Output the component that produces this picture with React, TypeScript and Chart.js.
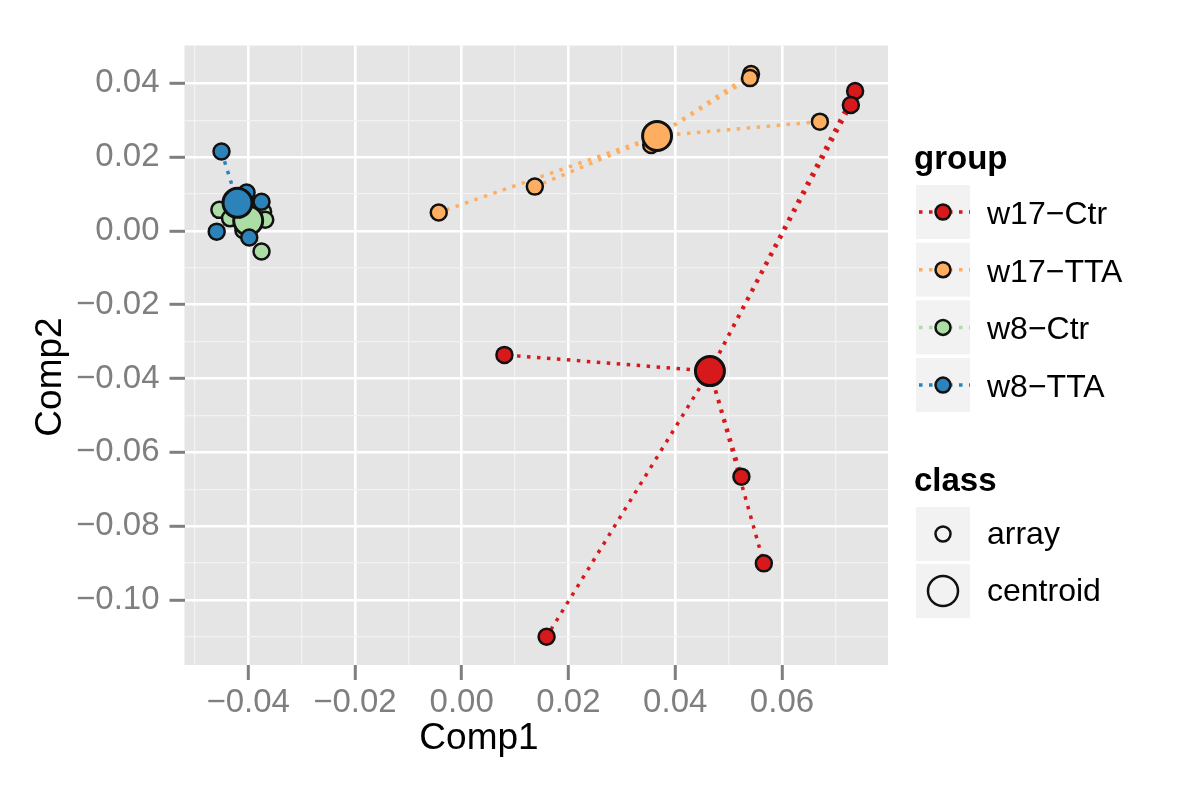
import React, { useEffect, useRef } from 'react';
import { Chart, registerables } from 'chart.js';

Chart.register(...registerables);

// ---------- data ----------
const groupNames = ['w17−Ctr', 'w17−TTA', 'w8−Ctr', 'w8−TTA'];
const groupColors = ['#D7191C', '#FDAE61', '#ABDDA4', '#2B83BA'];

const w17CtrX = [0.0737, 0.0729, 0.0080, 0.0524, 0.0566, 0.0159];
const w17CtrY = [0.0379, 0.0341, -0.0336, -0.0666, -0.0901, -0.1100];

const w17TtaX = [-0.0043, 0.0137, 0.0355, 0.0542, 0.0540, 0.0671];
const w17TtaY = [0.0050, 0.0120, 0.0233, 0.0425, 0.0414, 0.0296];

const w8CtrX = [-0.0454, -0.0434, -0.0372, -0.0368, -0.0375, -0.0409];
const w8CtrY = [0.0057, 0.0034, 0.0052, 0.0030, -0.0056, 0.0002];

const w8TtaX = [-0.0450, -0.0403, -0.0375, -0.0459, -0.0398];
const w8TtaY = [0.0215, 0.0104, 0.0079, -0.0002, -0.0018];

const centroidX = [0.0465, 0.0366, -0.0400, -0.0420];
const centroidY = [-0.0380, 0.0257, 0.0028, 0.0076];

const xTicks = [-0.04, -0.02, 0.0, 0.02, 0.04, 0.06];
const xMinorTicks = [-0.05, -0.03, -0.01, 0.01, 0.03, 0.05, 0.07];
const yTicks = [-0.10, -0.08, -0.06, -0.04, -0.02, 0.0, 0.02, 0.04];
const yMinorTicks = [-0.11, -0.09, -0.07, -0.05, -0.03, -0.01, 0.01, 0.03];
const xLimits = [-0.05193, 0.07986];
const yLimits = [-0.11764, 0.05024];

const xTitle = 'Comp1';
const yTitle = 'Comp2';
const groupTitle = 'group';
const classTitle = 'class';
const classNames = ['array', 'centroid'];

const groupXs = [w17CtrX, w17TtaX, w8CtrX, w8TtaX];
const groupYs = [w17CtrY, w17TtaY, w8CtrY, w8TtaY];

// ---------- helpers ----------
const FONT = '"Liberation Sans", Arial, Helvetica, sans-serif';
const isIn = (list: number[], v: number) => list.some((t) => Math.abs(t - v) < 1e-9);
const fmt = (v: number) => (v < -1e-12 ? '−' : '') + Math.abs(v).toFixed(2);

const ARRAY_R = 8;
const CENTROID_R = 14.5;
const DASH = [3.5, 6.5];

function buildDatasets() {
  const ds: any[] = [];
  // segments (centroid -> each array point)
  groupXs.forEach((xs, g) => {
    const data: any[] = [];
    xs.forEach((x, i) => {
      data.push({ x: centroidX[g], y: centroidY[g] });
      data.push({ x, y: groupYs[g][i] });
      data.push({ x: centroidX[g], y: null });
    });
    ds.push({
      type: 'scatter',
      label: groupNames[g] + ' lines',
      data,
      showLine: true,
      spanGaps: false,
      borderColor: groupColors[g],
      borderWidth: 3.5,
      borderDash: DASH,
      borderCapStyle: 'butt',
      pointRadius: 0,
      pointHoverRadius: 0,
      order: 200 - g,
    });
  });
  // points: per group, array points then centroid
  groupXs.forEach((xs, g) => {
    ds.push({
      type: 'scatter',
      label: groupNames[g],
      data: xs.map((x, i) => ({ x, y: groupYs[g][i] })),
      backgroundColor: groupColors[g],
      borderColor: '#111111',
      borderWidth: 2.5,
      pointRadius: ARRAY_R,
      pointHoverRadius: ARRAY_R,
      order: 100 - g * 20,
    });
    ds.push({
      type: 'scatter',
      label: groupNames[g] + ' centroid',
      data: [{ x: centroidX[g], y: centroidY[g] }],
      backgroundColor: groupColors[g],
      borderColor: '#111111',
      borderWidth: 3,
      pointRadius: CENTROID_R,
      pointHoverRadius: CENTROID_R,
      order: 90 - g * 20,
    });
  });
  return ds;
}

const decorPlugin = {
  id: 'decor',
  beforeDraw(chart: any) {
    const { ctx, chartArea: a } = chart;
    ctx.save();
    ctx.fillStyle = '#E5E5E5';
    ctx.fillRect(a.left, a.top, a.right - a.left, a.bottom - a.top);
    ctx.restore();
  },
  afterDraw(chart: any) {
    const { ctx } = chart;
    ctx.save();
    // axis titles
    ctx.fillStyle = '#000000';
    ctx.font = `37px ${FONT}`;
    ctx.textAlign = 'center';
    ctx.textBaseline = 'alphabetic';
    ctx.fillText(xTitle, 479, 749);
    ctx.save();
    ctx.translate(61, 377);
    ctx.rotate(-Math.PI / 2);
    ctx.fillText(yTitle, 0, 0);
    ctx.restore();

    // legend: group
    const keyX = 916;
    const keyW = 54;
    const labelX = 987;
    ctx.textAlign = 'left';
    ctx.font = `bold 33px ${FONT}`;
    ctx.fillText(groupTitle, 914, 169);
    const groupTops = [185, 242.7, 300.4, 358.1];
    groupNames.forEach((name, g) => {
      const top = groupTops[g];
      const cy = top + keyW / 2;
      const cx = keyX + keyW / 2;
      ctx.fillStyle = '#F2F2F2';
      ctx.fillRect(keyX, top, keyW, keyW);
      // dotted line
      ctx.save();
      ctx.strokeStyle = groupColors[g];
      ctx.lineWidth = 3.5;
      ctx.setLineDash(DASH);
      ctx.lineCap = 'butt';
      ctx.beginPath();
      ctx.moveTo(keyX + 3, cy);
      ctx.lineTo(keyX + keyW, cy);
      ctx.stroke();
      ctx.restore();
      // point
      ctx.beginPath();
      ctx.arc(cx, cy, 7.5, 0, Math.PI * 2);
      ctx.fillStyle = groupColors[g];
      ctx.fill();
      ctx.lineWidth = 2.5;
      ctx.strokeStyle = '#111111';
      ctx.stroke();
      ctx.fillStyle = '#000000';
      ctx.font = `32px ${FONT}`;
      ctx.fillText(name, labelX, cy + 12);
    });

    // legend: class
    ctx.font = `bold 33px ${FONT}`;
    ctx.fillStyle = '#000000';
    ctx.fillText(classTitle, 914, 491);
    const classTops = [507, 564];
    const classR = [7.5, 15];
    classNames.forEach((name, i) => {
      const top = classTops[i];
      const cy = top + keyW / 2;
      const cx = keyX + keyW / 2;
      ctx.fillStyle = '#F2F2F2';
      ctx.fillRect(keyX, top, keyW, keyW);
      ctx.beginPath();
      ctx.arc(cx, cy, classR[i], 0, Math.PI * 2);
      ctx.lineWidth = 2.5;
      ctx.strokeStyle = '#111111';
      ctx.stroke();
      ctx.fillStyle = '#000000';
      ctx.font = `32px ${FONT}`;
      ctx.fillText(name, labelX, cy + 10);
    });
    ctx.restore();
  },
};

function gridColor(major: number[]) {
  return (c: any) => (c.tick && isIn(major, c.tick.value) ? '#FFFFFF' : '#F2F2F2');
}
function gridWidth(major: number[]) {
  return (c: any) => (c.tick && isIn(major, c.tick.value) ? 2.6 : 1.3);
}
function tickColor(major: number[]) {
  return (c: any) => (c.tick && isIn(major, c.tick.value) ? '#7F7F7F' : 'rgba(0,0,0,0)');
}

export default function App() {
  const ref = useRef<HTMLCanvasElement | null>(null);
  useEffect(() => {
    if (!ref.current) return;
    const chart = new Chart(ref.current, {
      type: 'scatter',
      data: { datasets: buildDatasets() },
      options: {
        animation: false,
        responsive: false,
        maintainAspectRatio: false,
        events: [],
        layout: { padding: { left: 0, top: 45.5, right: 312, bottom: 0 } },
        plugins: { legend: { display: false }, tooltip: { enabled: false }, title: { display: false } },
        scales: {
          x: {
            type: 'linear',
            min: xLimits[0],
            max: xLimits[1],
            afterBuildTicks: (axis: any) => {
              axis.ticks = [...xTicks, ...xMinorTicks].sort((a, b) => a - b).map((v) => ({ value: v }));
            },
            afterFit: (s: any) => {
              s.height = 125;
            },
            border: { display: false },
            grid: {
              color: gridColor(xTicks),
              lineWidth: gridWidth(xTicks),
              tickColor: tickColor(xTicks),
              tickLength: 15,
              tickWidth: 3,
              drawTicks: true,
            },
            ticks: {
              autoSkip: false,
              maxRotation: 0,
              minRotation: 0,
              padding: 3,
              color: '#7F7F7F',
              font: { family: FONT, size: 33 },
              callback: (v: any) => (isIn(xTicks, Number(v)) ? fmt(Number(v)) : ''),
            },
          },
          y: {
            type: 'linear',
            min: yLimits[0],
            max: yLimits[1],
            afterBuildTicks: (axis: any) => {
              axis.ticks = [...yTicks, ...yMinorTicks].sort((a, b) => a - b).map((v) => ({ value: v }));
            },
            afterFit: (s: any) => {
              s.width = 184.5;
            },
            border: { display: false },
            grid: {
              color: gridColor(yTicks),
              lineWidth: gridWidth(yTicks),
              tickColor: tickColor(yTicks),
              tickLength: 15,
              tickWidth: 3,
              drawTicks: true,
            },
            ticks: {
              autoSkip: false,
              padding: 10,
              color: '#7F7F7F',
              font: { family: FONT, size: 33 },
              callback: (v: any) => (isIn(yTicks, Number(v)) ? fmt(Number(v)) : ''),
            },
          },
        },
      } as any,
      plugins: [decorPlugin],
    });
    return () => chart.destroy();
  }, []);

  return (
    <div style={{ position: 'absolute', left: 0, top: 0, width: 1200, height: 790, background: '#FFFFFF' }}>
      <canvas ref={ref} width={1200} height={790} style={{ display: 'block', width: 1200, height: 790 }} />
    </div>
  );
}
